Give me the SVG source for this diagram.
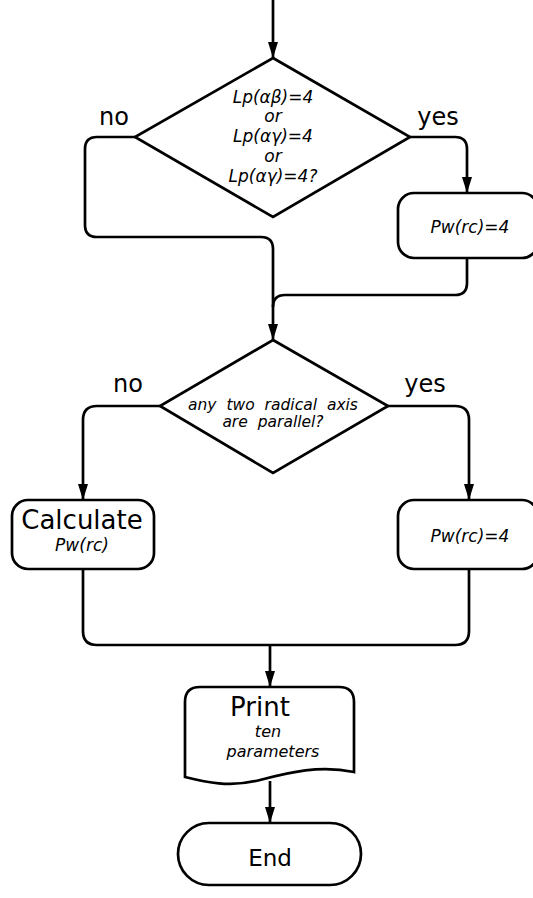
<svg xmlns="http://www.w3.org/2000/svg" width="533" height="898" viewBox="0 0 533 898">
<style>
.s{fill:#fff;stroke:#000;stroke-width:2.7}
.c{fill:none;stroke:#000;stroke-width:2.7}
.t{font-family:"DejaVu Sans","Liberation Sans",sans-serif;fill:#000;text-anchor:middle}
.i{font-family:"DejaVu Sans","Liberation Sans",sans-serif;font-style:italic;fill:#000;text-anchor:middle}
</style>
<defs>
<marker id="a" markerUnits="userSpaceOnUse" markerWidth="16" markerHeight="12" refX="16" refY="6" orient="auto" viewBox="0 0 16 12"><path d="M0,1 L16,6 L0,11 Z" fill="#000"/></marker>
</defs>
<rect width="533" height="898" fill="#fff"/>
<g id="connectors">
<path class="c" d="M273,0 V58" marker-end="url(#a)"/>
<path class="c" d="M135,137 H97 Q85,137 85,149 V225 Q85,237 97,237 H261 Q273,237 273,249 V340" marker-end="url(#a)"/>
<path class="c" d="M410,137 H455 Q467,137 467,149 V193" marker-end="url(#a)"/>
<path class="c" d="M467,258 V283 Q467,295 455,295 H285 Q273,295 273,307"/>
<path class="c" d="M160,406 H97 Q83,406 83,420 V500" marker-end="url(#a)"/>
<path class="c" d="M388,406 H455 Q469,406 469,420 V500" marker-end="url(#a)"/>
<path class="c" d="M83,569 V631 Q83,645 97,645 H455 Q469,645 469,631 V569"/>
<path class="c" d="M270,645 V687" marker-end="url(#a)"/>
<path class="c" d="M270,781 V823" marker-end="url(#a)"/>
<text class="t" x="114" y="125" font-size="24">no</text>
<text class="t" x="438" y="125" font-size="24">yes</text>
<text class="t" x="128" y="392" font-size="24">no</text>
<text class="t" x="425" y="392" font-size="24">yes</text>
</g>
<g id="decision1">
<path class="s" d="M273,58 L410,137 L273,217 L135,137 Z"/>
<text class="i" x="273" y="103" font-size="17">Lp(αβ)=4</text>
<text class="i" x="273" y="122" font-size="17">or</text>
<text class="i" x="273" y="142" font-size="17">Lp(αγ)=4</text>
<text class="i" x="273" y="162" font-size="17">or</text>
<text class="i" x="273" y="182" font-size="17">Lp(αγ)=4?</text>
</g>
<g id="box1">
<rect class="s" x="398" y="193" width="140" height="65" rx="16"/>
<text class="i" x="470" y="233" font-size="17">Pw(rc)=4</text>
</g>
<g id="decision2">
<path class="s" d="M273,340 L388,406 L273,473 L160,406 Z"/>
<text class="i" x="273" y="410" font-size="15.5" word-spacing="5">any two radical axis</text>
<text class="i" x="273" y="427" font-size="15.5" word-spacing="5">are parallel?</text>
</g>
<g id="calc">
<rect class="s" x="12" y="500" width="142" height="69" rx="16"/>
<text class="t" x="82" y="529" font-size="26">Calculate</text>
<text class="i" x="82" y="551" font-size="17">Pw(rc)</text>
</g>
<g id="box2">
<rect class="s" x="398" y="500" width="140" height="69" rx="16"/>
<text class="i" x="470" y="542" font-size="17">Pw(rc)=4</text>
</g>
<g id="print">
<path class="s" d="M200,687 H339 Q354,687 354,702 V772 C320,765 290,772 260,780 C230,788 205,782 185,777 V702 Q185,687 200,687 Z"/>
<text class="t" x="260" y="716" font-size="26">Print</text>
<text class="i" x="268" y="737" font-size="16">ten</text>
<text class="i" x="273" y="757" font-size="16">parameters</text>
</g>
<g id="end">
<rect class="s" x="178" y="823" width="183" height="62" rx="31"/>
<text class="t" x="270" y="866" font-size="23">End</text>
</g>
</svg>
